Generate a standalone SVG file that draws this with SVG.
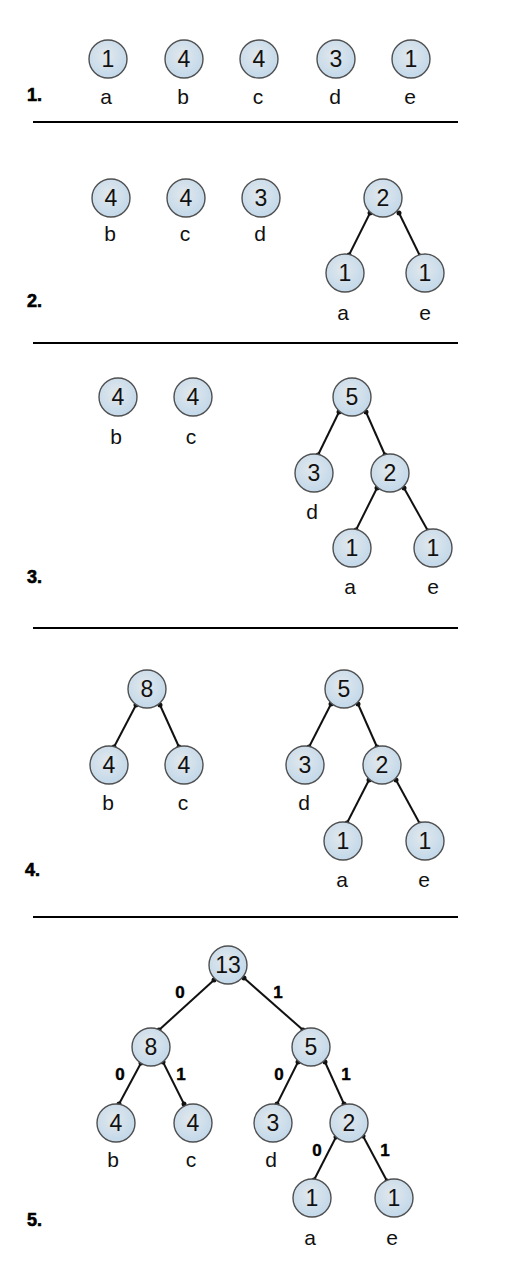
<svg xmlns="http://www.w3.org/2000/svg" width="512" height="1280" viewBox="0 0 512 1280">
<defs>
<radialGradient id="g" cx="45%" cy="40%" r="60%">
<stop offset="0" stop-color="#e2e8ec"/>
<stop offset="1" stop-color="#c2d8ea"/>
</radialGradient>
</defs>
<style>
rect.bg{fill:#fff}
circle.n{fill:url(#g);stroke:#505050;stroke-width:1.4}
text.v{font-family:"Liberation Sans",Arial,sans-serif;font-size:23px;fill:#111;text-anchor:middle}
text.l{font-family:"Liberation Sans",Arial,sans-serif;font-size:21px;fill:#111;text-anchor:middle}
text.s{font-family:"Liberation Sans",Arial,sans-serif;font-size:18px;font-weight:bold;fill:#000;stroke:#000;stroke-width:0.6}
text.e{font-family:"Liberation Sans",Arial,sans-serif;font-size:17px;font-weight:bold;fill:#000;stroke:#000;stroke-width:0.4;text-anchor:middle}
line.sep{stroke:#000;stroke-width:2}
.edges line{stroke:#111;stroke-width:2}
.edges circle{fill:#111}
</style>
<rect class="bg" width="512" height="1280"/>

<!-- Section labels and separators -->
<g id="section-labels">
<text class="s" x="27" y="101">1.</text>
<text class="s" x="27" y="307">2.</text>
<text class="s" x="27" y="583">3.</text>
<text class="s" x="25" y="876">4.</text>
<text class="s" x="27" y="1226">5.</text>
</g>
<g id="separators">
<line class="sep" x1="33" y1="122" x2="458" y2="122"/>
<line class="sep" x1="33" y1="343" x2="458" y2="343"/>
<line class="sep" x1="33" y1="628" x2="458" y2="628"/>
<line class="sep" x1="33" y1="917" x2="458" y2="917"/>
</g>

<!-- Connectors -->
<g id="connectors" class="edges">
<!-- step 2 -->
<line x1="370" y1="213" x2="349" y2="255"/><circle cx="370" cy="213" r="2.5"/><circle cx="349" cy="255" r="2.5"/>
<line x1="399" y1="213" x2="420" y2="256"/><circle cx="399" cy="213" r="2.5"/><circle cx="420" cy="256" r="2.5"/>
<!-- step 3 -->
<line x1="339" y1="412" x2="318" y2="455"/><circle cx="339" cy="412" r="2.5"/><circle cx="318" cy="455" r="2.5"/>
<line x1="366" y1="412" x2="385" y2="455"/><circle cx="366" cy="412" r="2.5"/><circle cx="385" cy="455" r="2.5"/>
<line x1="377" y1="488" x2="356" y2="530"/><circle cx="377" cy="488" r="2.5"/><circle cx="356" cy="530" r="2.5"/>
<line x1="404" y1="488" x2="428" y2="531"/><circle cx="404" cy="488" r="2.5"/><circle cx="428" cy="531" r="2.5"/>
<!-- step 4 -->
<line x1="136" y1="705" x2="114" y2="747"/><circle cx="136" cy="705" r="2.5"/><circle cx="114" cy="747" r="2.5"/>
<line x1="160" y1="705" x2="179" y2="747"/><circle cx="160" cy="705" r="2.5"/><circle cx="179" cy="747" r="2.5"/>
<line x1="331" y1="704" x2="309" y2="747"/><circle cx="331" cy="704" r="2.5"/><circle cx="309" cy="747" r="2.5"/>
<line x1="358" y1="704" x2="377" y2="747"/><circle cx="358" cy="704" r="2.5"/><circle cx="377" cy="747" r="2.5"/>
<line x1="369" y1="780" x2="347" y2="823"/><circle cx="369" cy="780" r="2.5"/><circle cx="347" cy="823" r="2.5"/>
<line x1="396" y1="780" x2="420" y2="824"/><circle cx="396" cy="780" r="2.5"/><circle cx="420" cy="824" r="2.5"/>
<!-- step 5 -->
<line x1="214" y1="980" x2="159" y2="1030"/><circle cx="214" cy="980" r="2.5"/><circle cx="159" cy="1030" r="2.5"/>
<line x1="244" y1="978" x2="303" y2="1030"/><circle cx="244" cy="978" r="2.5"/><circle cx="303" cy="1030" r="2.5"/>
<line x1="141" y1="1063" x2="119" y2="1104"/><circle cx="141" cy="1063" r="2.5"/><circle cx="119" cy="1104" r="2.5"/>
<line x1="163" y1="1062" x2="184" y2="1104"/><circle cx="163" cy="1062" r="2.5"/><circle cx="184" cy="1104" r="2.5"/>
<line x1="298" y1="1062" x2="277" y2="1104"/><circle cx="298" cy="1062" r="2.5"/><circle cx="277" cy="1104" r="2.5"/>
<line x1="325" y1="1062" x2="344" y2="1104"/><circle cx="325" cy="1062" r="2.5"/><circle cx="344" cy="1104" r="2.5"/>
<line x1="336" y1="1137" x2="314" y2="1180"/><circle cx="336" cy="1137" r="2.5"/><circle cx="314" cy="1180" r="2.5"/>
<line x1="363" y1="1136" x2="387" y2="1181"/><circle cx="363" cy="1136" r="2.5"/><circle cx="387" cy="1181" r="2.5"/>
</g>

<!-- Edge labels step 5 -->
<g id="edge-labels">
<text class="e" x="180" y="998">0</text>
<text class="e" x="278" y="998">1</text>
<text class="e" x="120" y="1080">0</text>
<text class="e" x="181" y="1080">1</text>
<text class="e" x="279" y="1080">0</text>
<text class="e" x="346" y="1080">1</text>
<text class="e" x="317" y="1156">0</text>
<text class="e" x="385" y="1156">1</text>
</g>

<!-- Step 1 nodes -->
<g id="s1-a"><circle class="n" cx="108" cy="59" r="19"/><text class="v" x="108" y="67">1</text><text class="l" x="106" y="104">a</text></g>
<g id="s1-b"><circle class="n" cx="184" cy="59" r="19"/><text class="v" x="184" y="67">4</text><text class="l" x="183" y="104">b</text></g>
<g id="s1-c"><circle class="n" cx="259" cy="59" r="19"/><text class="v" x="259" y="67">4</text><text class="l" x="258" y="104">c</text></g>
<g id="s1-d"><circle class="n" cx="336" cy="59" r="19"/><text class="v" x="336" y="67">3</text><text class="l" x="335" y="104">d</text></g>
<g id="s1-e"><circle class="n" cx="411" cy="59" r="19"/><text class="v" x="411" y="67">1</text><text class="l" x="410" y="104">e</text></g>

<!-- Step 2 nodes -->
<g id="s2-b"><circle class="n" cx="111" cy="198" r="19"/><text class="v" x="111" y="206">4</text><text class="l" x="110" y="241">b</text></g>
<g id="s2-c"><circle class="n" cx="186" cy="198" r="19"/><text class="v" x="186" y="206">4</text><text class="l" x="185" y="241">c</text></g>
<g id="s2-d"><circle class="n" cx="261" cy="198" r="19"/><text class="v" x="261" y="206">3</text><text class="l" x="260" y="241">d</text></g>
<g id="s2-ae"><circle class="n" cx="383" cy="198" r="19"/><text class="v" x="383" y="206">2</text></g>
<g id="s2-a"><circle class="n" cx="345" cy="273" r="19"/><text class="v" x="345" y="281">1</text><text class="l" x="343" y="320">a</text></g>
<g id="s2-e"><circle class="n" cx="425" cy="273" r="19"/><text class="v" x="425" y="281">1</text><text class="l" x="425" y="320">e</text></g>

<!-- Step 3 nodes -->
<g id="s3-b"><circle class="n" cx="118" cy="397" r="19"/><text class="v" x="118" y="405">4</text><text class="l" x="116" y="444">b</text></g>
<g id="s3-c"><circle class="n" cx="193" cy="397" r="19"/><text class="v" x="193" y="405">4</text><text class="l" x="191" y="444">c</text></g>
<g id="s3-root"><circle class="n" cx="352" cy="397" r="19"/><text class="v" x="352" y="405">5</text></g>
<g id="s3-d"><circle class="n" cx="314" cy="473" r="19"/><text class="v" x="314" y="481">3</text><text class="l" x="312" y="519">d</text></g>
<g id="s3-ae"><circle class="n" cx="390" cy="473" r="19"/><text class="v" x="390" y="481">2</text></g>
<g id="s3-a"><circle class="n" cx="352" cy="548" r="19"/><text class="v" x="352" y="556">1</text><text class="l" x="350" y="594">a</text></g>
<g id="s3-e"><circle class="n" cx="433" cy="548" r="19"/><text class="v" x="433" y="556">1</text><text class="l" x="433" y="594">e</text></g>

<!-- Step 4 nodes -->
<g id="s4-bc"><circle class="n" cx="147" cy="689" r="19"/><text class="v" x="147" y="697">8</text></g>
<g id="s4-b"><circle class="n" cx="109" cy="765" r="19"/><text class="v" x="109" y="773">4</text><text class="l" x="108" y="810">b</text></g>
<g id="s4-c"><circle class="n" cx="184" cy="765" r="19"/><text class="v" x="184" y="773">4</text><text class="l" x="183" y="810">c</text></g>
<g id="s4-root"><circle class="n" cx="344" cy="689" r="19"/><text class="v" x="344" y="697">5</text></g>
<g id="s4-d"><circle class="n" cx="305" cy="765" r="19"/><text class="v" x="305" y="773">3</text><text class="l" x="304" y="810">d</text></g>
<g id="s4-ae"><circle class="n" cx="382" cy="765" r="19"/><text class="v" x="382" y="773">2</text></g>
<g id="s4-a"><circle class="n" cx="343" cy="841" r="19"/><text class="v" x="343" y="849">1</text><text class="l" x="342" y="887">a</text></g>
<g id="s4-e"><circle class="n" cx="425" cy="841" r="19"/><text class="v" x="425" y="849">1</text><text class="l" x="424" y="887">e</text></g>

<!-- Step 5 nodes -->
<g id="s5-root"><circle class="n" cx="228" cy="965" r="19"/><text class="v" x="228" y="973">13</text></g>
<g id="s5-bc"><circle class="n" cx="151" cy="1047" r="19"/><text class="v" x="151" y="1055">8</text></g>
<g id="s5-dae"><circle class="n" cx="311" cy="1047" r="19"/><text class="v" x="311" y="1055">5</text></g>
<g id="s5-b"><circle class="n" cx="116" cy="1123" r="19"/><text class="v" x="116" y="1131">4</text><text class="l" x="113" y="1167">b</text></g>
<g id="s5-c"><circle class="n" cx="193" cy="1123" r="19"/><text class="v" x="193" y="1131">4</text><text class="l" x="191" y="1167">c</text></g>
<g id="s5-d"><circle class="n" cx="273" cy="1123" r="19"/><text class="v" x="273" y="1131">3</text><text class="l" x="271" y="1167">d</text></g>
<g id="s5-ae"><circle class="n" cx="349" cy="1123" r="19"/><text class="v" x="349" y="1131">2</text></g>
<g id="s5-a"><circle class="n" cx="312" cy="1198" r="19"/><text class="v" x="312" y="1206">1</text><text class="l" x="310" y="1245">a</text></g>
<g id="s5-e"><circle class="n" cx="394" cy="1198" r="19"/><text class="v" x="394" y="1206">1</text><text class="l" x="392" y="1245">e</text></g>
</svg>
